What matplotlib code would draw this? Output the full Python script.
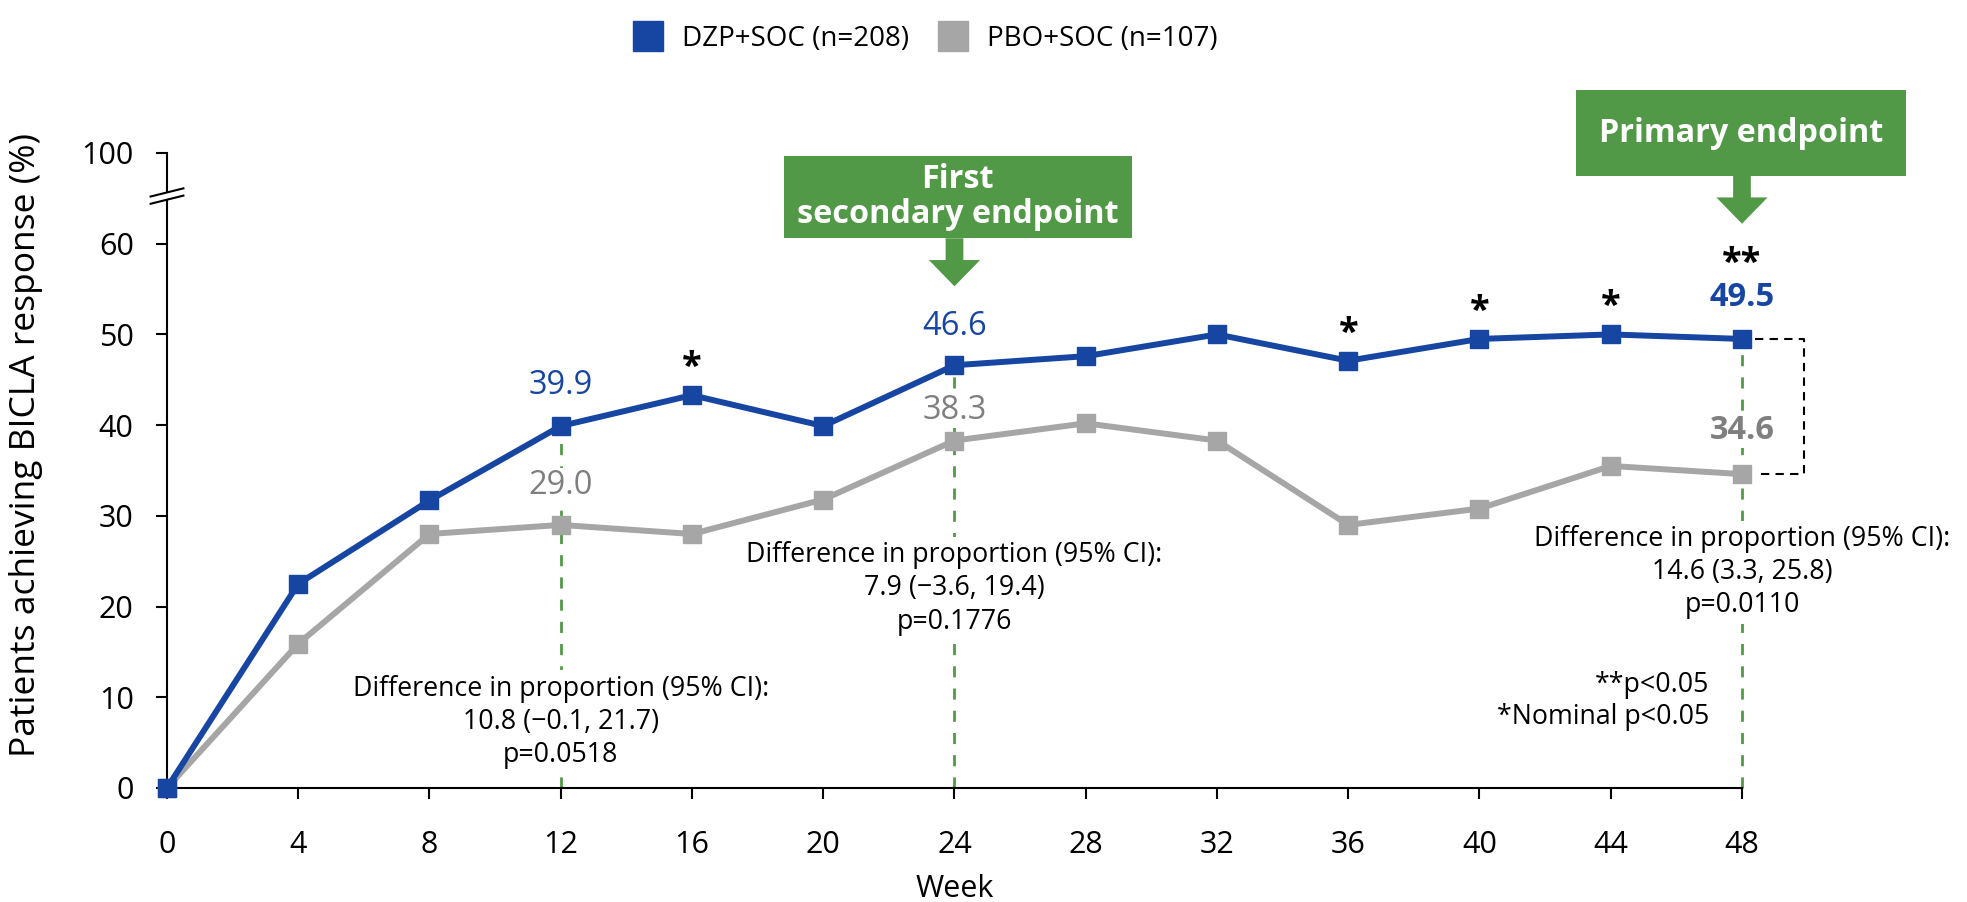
import matplotlib.pyplot as plt
from matplotlib.lines import Line2D
from matplotlib.patches import Rectangle, Polygon

plt.rcParams['font.family'] = ['Open Sans', 'DejaVu Sans']

weeks = [0, 4, 8, 12, 16, 20, 24, 28, 32, 36, 40, 44, 48]
dzp = [0, 22.5, 31.7, 39.9, 43.3, 39.9, 46.6, 47.6, 50.0, 47.1, 49.5, 50.0, 49.5]
pbo = [0, 15.9, 28.0, 29.0, 28.0, 31.8, 38.3, 40.2, 38.3, 29.0, 30.8, 35.5, 34.6]
star_weeks = [16, 36, 40, 44]
key_weeks = [12, 24, 48]
diff_texts = ['Difference in proportion (95% CI):\n10.8 (\u22120.1, 21.7)\np=0.0518',
              'Difference in proportion (95% CI):\n7.9 (\u22123.6, 19.4)\np=0.1776',
              'Difference in proportion (95% CI):\n14.6 (3.3, 25.8)\np=0.0110']
ytick_vals = [0, 10, 20, 30, 40, 50, 60, 70]
ytick_labels = ['0', '10', '20', '30', '40', '50', '60', '100']

blue = '#1746A2'
gray = '#A6A6A6'
gray_txt = '#7F7F7F'
green = '#529947'

fig = plt.figure(figsize=(19.67, 9.02), dpi=100)
ax = fig.add_axes([0.0849, 0.1264, 0.8007, 0.704])

# green dashed reference lines (under the text boxes)
for w in key_weeks:
    ax.plot([w, w], [0, dzp[weeks.index(w)]], color=green, lw=2, ls=(0, (4, 4)), zorder=1,
            clip_on=False)

ax.plot(weeks, pbo, color=gray, lw=4.3, marker='s', ms=13, zorder=4, clip_on=False)
ax.plot(weeks, dzp, color=blue, lw=4.3, marker='s', ms=13, zorder=5, clip_on=False)

ax.set_xlim(0, 48)
ax.set_ylim(0, 70)
ax.set_xticks(weeks)
ax.set_yticks(ytick_vals)
ax.set_yticklabels(ytick_labels)
ax.tick_params(labelsize=22, length=8, width=1.5, direction='out')
ax.tick_params(axis='x', pad=22)
ax.tick_params(axis='y', pad=16)
for s in ['top', 'right']:
    ax.spines[s].set_visible(False)
for s in ['left', 'bottom']:
    ax.spines[s].set_linewidth(1.5)
ax.set_xlabel('Week', fontsize=22, labelpad=10)
ax.set_ylabel('Patients achieving BICLA response (%)', fontsize=25.5)
ax.yaxis.set_label_coords(-0.079, 0.54)

# axis break marks
ax.add_patch(Rectangle((-0.2, 64.85), 0.4, 0.8, facecolor='white', edgecolor='none',
                       zorder=6, clip_on=False))
for yb in [64.85, 65.65]:
    ax.plot([-0.5, 0.5], [yb - 0.45, yb + 0.45], color='black', lw=1.5, zorder=7, clip_on=False)

box = dict(facecolor='white', edgecolor='none', pad=1)
lbl = 23.5
# value labels
ax.text(12, 44.4, '39.9', color=blue, fontsize=lbl, ha='center', va='center', zorder=2, bbox=box)
ax.text(12, 33.3, '29.0', color=gray_txt, fontsize=lbl, ha='center', va='center', zorder=2, bbox=box)
ax.text(24, 50.9, '46.6', color=blue, fontsize=lbl, ha='center', va='center', zorder=2, bbox=box)
ax.text(24, 41.6, '38.3', color=gray_txt, fontsize=lbl, ha='center', va='center', zorder=2, bbox=box)
ax.text(48, 54.1, '49.5', color=blue, fontsize=lbl, fontweight='bold', ha='center', va='center',
        zorder=2)
ax.text(48, 39.4, '34.6', color=gray_txt, fontsize=lbl, fontweight='bold', ha='center', va='center',
        zorder=2, bbox=box)
ax.text(48, 57.8, '**', color='black', fontsize=26, fontweight='bold', ha='center', va='center',
        zorder=2)
for w in star_weeks:
    ax.text(w, dzp[weeks.index(w)] + 3.0, '*', color='black', fontsize=26, fontweight='bold',
            ha='center', va='center', zorder=2)

# difference annotations
dfs = 19.3
dbox = dict(facecolor='white', edgecolor='none', pad=3)
ax.text(12, 7.3, diff_texts[0], fontsize=dfs, ha='center', va='center', linespacing=1.25,
        zorder=2, bbox=dbox)
ax.text(24, 22.0, diff_texts[1], fontsize=dfs, ha='center', va='center', linespacing=1.25,
        zorder=2, bbox=dbox)
ax.text(48, 23.8, diff_texts[2], fontsize=dfs, ha='center', va='center', linespacing=1.25,
        zorder=2, bbox=dbox)
ax.text(47.0, 9.6, '**p<0.05\n*Nominal p<0.05', fontsize=dfs, ha='right', va='center',
        linespacing=1.2, zorder=2)

# difference bracket
ax.plot([48.4, 49.9, 49.9, 48.4], [dzp[-1], dzp[-1], pbo[-1], pbo[-1]], color='black', lw=1.5,
        ls=(0, (4, 3)), zorder=3, clip_on=False)

# endpoint callouts
def callout(x0, x1, y0, y1, xc, stem_bot, tip, text):
    ax.add_patch(Rectangle((x0, y0), x1 - x0, y1 - y0, facecolor=green, edgecolor='none',
                           zorder=8, clip_on=False))
    ax.add_patch(Polygon([(xc - 0.27, y0), (xc + 0.27, y0), (xc + 0.27, stem_bot),
                          (xc + 0.78, stem_bot), (xc, tip), (xc - 0.78, stem_bot),
                          (xc - 0.27, stem_bot)], closed=True, facecolor=green,
                         edgecolor='none', zorder=8, clip_on=False))
    ax.text((x0 + x1) / 2, (y0 + y1) / 2, text, color='white', fontsize=23.3, fontweight='bold',
            ha='center', va='center', linespacing=1.1, zorder=9, clip_on=False)

callout(18.8, 29.4, 60.6, 69.7, 24, 58.2, 55.3, 'First\nsecondary endpoint')
callout(42.95, 53.0, 67.5, 76.9, 48, 65.1, 62.2, 'Primary endpoint')

# legend
handles = [Line2D([], [], ls='none', marker='s', ms=22, color=blue),
           Line2D([], [], ls='none', marker='s', ms=22, color=gray)]
fig.legend(handles, ['DZP+SOC (n=208)', 'PBO+SOC (n=107)'], loc='upper center',
           bbox_to_anchor=(0.470, 1.0), ncol=2, frameon=False, fontsize=20,
           handlelength=1.2, handletextpad=0.6, columnspacing=1.0)

fig.savefig('out.png', dpi=100)
